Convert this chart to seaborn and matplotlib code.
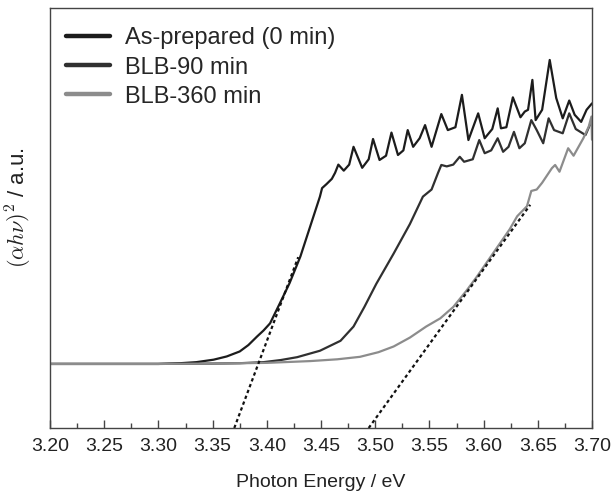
import numpy as np
import pandas as pd
import matplotlib
matplotlib.use("Agg")
import matplotlib.pyplot as plt
from matplotlib.ticker import MultipleLocator
from matplotlib.lines import Line2D
import seaborn as sns

# ---------------- data ----------------
labels = ["As-prepared (0 min)", "BLB-90 min", "BLB-360 min"]
colors = ["#1c1c1c", "#303030", "#8c8c8c"]

e_as = [3.20, 3.25, 3.30, 3.32, 3.335, 3.351, 3.363, 3.375, 3.383, 3.391, 3.397, 3.403,
        3.412, 3.421, 3.431, 3.440, 3.449, 3.451, 3.455, 3.460, 3.463, 3.466, 3.471,
        3.476, 3.480, 3.488, 3.494, 3.498, 3.504, 3.510, 3.515, 3.521, 3.526, 3.530,
        3.535, 3.541, 3.546, 3.552, 3.561, 3.567, 3.574, 3.580, 3.586, 3.595, 3.601,
        3.608, 3.613, 3.616, 3.621, 3.627, 3.634, 3.638, 3.641, 3.645, 3.648, 3.654,
        3.661, 3.667, 3.673, 3.679, 3.684, 3.690, 3.695, 3.700]
v_as = [0.0, 0.0, 0.0, 0.002, 0.005, 0.012, 0.021, 0.035, 0.053, 0.077, 0.094, 0.114,
        0.170, 0.227, 0.302, 0.386, 0.470, 0.494, 0.505, 0.520, 0.537, 0.560, 0.543,
        0.560, 0.610, 0.551, 0.575, 0.632, 0.573, 0.585, 0.650, 0.587, 0.600, 0.657,
        0.610, 0.634, 0.671, 0.610, 0.702, 0.657, 0.665, 0.756, 0.629, 0.704, 0.634,
        0.660, 0.718, 0.662, 0.665, 0.749, 0.693, 0.709, 0.714, 0.798, 0.685, 0.714,
        0.854, 0.747, 0.690, 0.740, 0.700, 0.680, 0.714, 0.732]

e_90 = [3.20, 3.25, 3.30, 3.35, 3.375, 3.397, 3.413, 3.428, 3.449, 3.468, 3.480, 3.490,
        3.501, 3.517, 3.532, 3.544, 3.552, 3.558, 3.561, 3.566, 3.572, 3.578, 3.582,
        3.590, 3.596, 3.601, 3.607, 3.613, 3.618, 3.623, 3.628, 3.633, 3.638, 3.644,
        3.649, 3.655, 3.660, 3.665, 3.673, 3.679, 3.685, 3.694, 3.700]
v_90 = [0.0, 0.0, 0.0, 0.001, 0.002, 0.005, 0.011, 0.019, 0.037, 0.065, 0.105, 0.160,
        0.225, 0.310, 0.393, 0.470, 0.490, 0.537, 0.559, 0.555, 0.560, 0.582, 0.568,
        0.575, 0.629, 0.592, 0.600, 0.634, 0.596, 0.610, 0.652, 0.606, 0.620, 0.685,
        0.657, 0.620, 0.690, 0.657, 0.648, 0.704, 0.660, 0.643, 0.685]

e_360 = [3.20, 3.30, 3.35, 3.40, 3.44, 3.465, 3.486, 3.503, 3.517, 3.532, 3.547, 3.560,
         3.572, 3.584, 3.594, 3.609, 3.624, 3.631, 3.640, 3.644, 3.649, 3.654, 3.663,
         3.666, 3.670, 3.678, 3.683, 3.692, 3.697, 3.6995, 3.700]
v_360 = [0.0, 0.0, 0.001, 0.003, 0.008, 0.013, 0.020, 0.033, 0.049, 0.074, 0.105, 0.128,
         0.160, 0.205, 0.246, 0.312, 0.378, 0.415, 0.443, 0.486, 0.490, 0.509, 0.550,
         0.559, 0.540, 0.606, 0.585, 0.634, 0.667, 0.695, 0.630]

# linear tangent extrapolations (endpoints)
tan1_e = [3.370, 3.429]
tan1_v = [-0.18, 0.30]
tan2_e = [3.494, 3.643]
tan2_v = [-0.18, 0.447]

x_ticks = [3.20, 3.25, 3.30, 3.35, 3.40, 3.45, 3.50, 3.55, 3.60, 3.65, 3.70]
x_label = "Photon Energy / eV"
y_label = r"$(\alpha h\nu)^2$ / a.u."

# ---------------- style ----------------
sns.set_style("ticks")
plt.rcParams["font.family"] = ["Liberation Sans", "DejaVu Sans"]
plt.rcParams["mathtext.fontset"] = "cm"

df = pd.concat([
    pd.DataFrame({"E": e_as, "v": v_as, "s": labels[0]}),
    pd.DataFrame({"E": e_90, "v": v_90, "s": labels[1]}),
    pd.DataFrame({"E": e_360, "v": v_360, "s": labels[2]}),
], ignore_index=True)

fig = plt.figure(figsize=(6.12, 4.96), dpi=100)
ax = fig.add_axes([50 / 612, 1 - 428 / 496, 542 / 612, 420 / 496])

sns.lineplot(data=df, x="E", y="v", hue="s", palette=dict(zip(labels, colors)),
             estimator=None, sort=False, lw=1.6, legend=False, ax=ax)
tan_df = pd.concat([
    pd.DataFrame({"E": tan1_e, "v": tan1_v, "t": "a"}),
    pd.DataFrame({"E": tan2_e, "v": tan2_v, "t": "b"}),
], ignore_index=True)
for t, g in tan_df.groupby("t"):
    sns.lineplot(data=g, x="E", y="v", color="#111111", lw=1.6,
                 linestyle=(0, (1.5, 1.3)), estimator=None, ax=ax)

ax.set_xlim(3.20, 3.70)
ax.set_ylim(-0.18, 1.0)
ax.set_xticks(x_ticks)
ax.set_xticklabels([f"{t:.2f}" for t in x_ticks])
ax.xaxis.set_minor_locator(MultipleLocator(0.025))
ax.set_yticks([])
ax.tick_params(axis="x", which="major", direction="in", length=6, width=1,
               color="#444444", labelsize=14, labelcolor="#222222", pad=7)
ax.tick_params(axis="x", which="minor", direction="in", length=3.5, width=1,
               color="#444444")
for sp in ax.spines.values():
    sp.set_visible(True)
    sp.set_color("#444444")
    sp.set_linewidth(1.0)

ax.set_xlabel(x_label, fontsize=14, color="#222222", labelpad=14)
ax.set_ylabel(y_label, fontsize=16, color="#222222")
ax.yaxis.set_label_coords(-0.030, 0.524)

handles = [Line2D([], [], color=c, lw=3.2) for c in colors]
ax.legend(handles, labels, loc="upper left", bbox_to_anchor=(0.02, 0.965),
          frameon=False, fontsize=17, handlelength=1.9, handletextpad=0.6,
          labelspacing=0.3, borderpad=0.2, borderaxespad=0)

fig.savefig("out.png", dpi=100)
